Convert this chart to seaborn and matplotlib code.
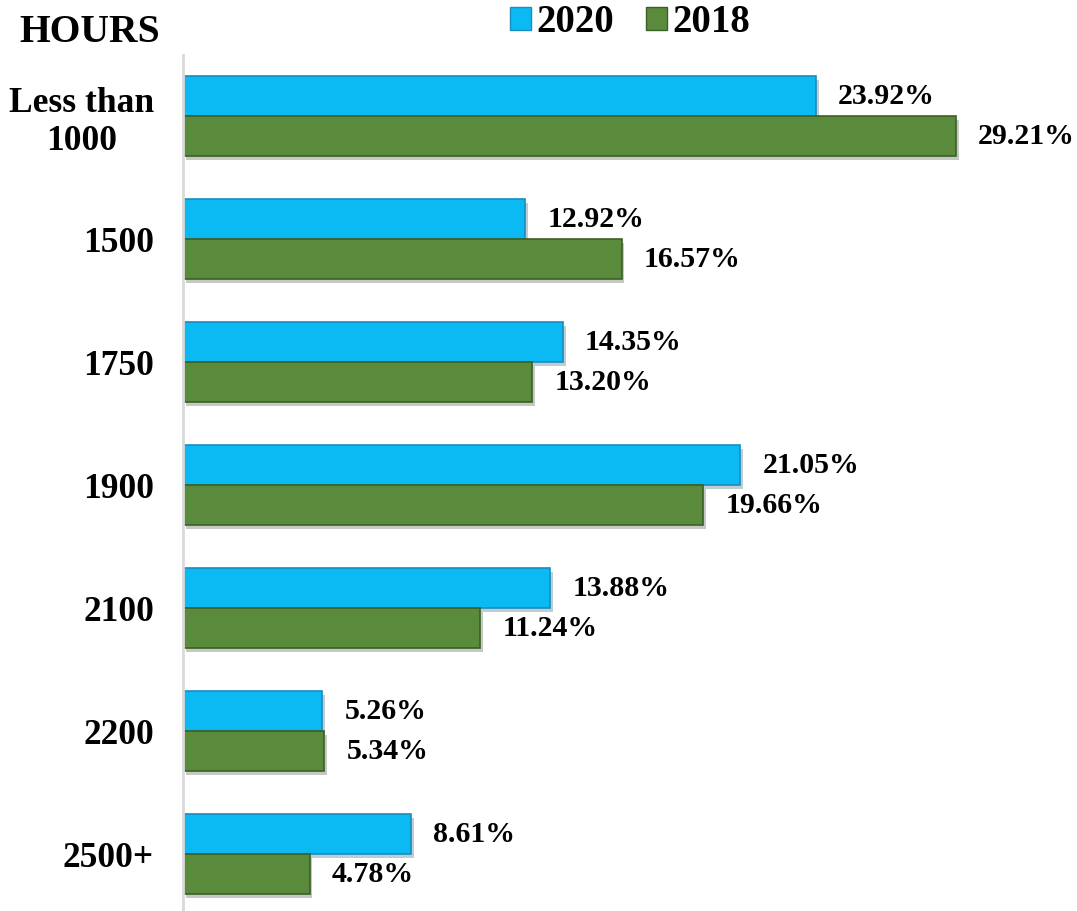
import matplotlib
matplotlib.use("Agg")
import matplotlib.pyplot as plt
import matplotlib.patheffects as pe
import seaborn as sns
import pandas as pd
from matplotlib.patches import Patch

categories = ["Less than\n1000", "1500", "1750", "1900", "2100", "2200", "2500+"]
values_2020 = [23.92, 12.92, 14.35, 21.05, 13.88, 5.26, 8.61]
values_2018 = [29.21, 16.57, 13.20, 19.66, 11.24, 5.34, 4.78]
series = ["2020", "2018"]

df = pd.DataFrame({
    "cat": categories * 2,
    "val": values_2020 + values_2018,
    "year": [series[0]] * len(categories) + [series[1]] * len(categories),
})

sns.set_theme(style="white")
plt.rcParams['font.family'] = ['Liberation Serif', 'DejaVu Serif']
plt.rcParams['font.weight'] = 'bold'
plt.rcParams['text.color'] = 'black'
plt.rcParams['ytick.color'] = 'black'
plt.rcParams['ytick.labelcolor'] = 'black'

blue = "#0BBAF2"
green = "#5A8A3C"
edges = {"2020": "#1A8CC0", "2018": "#3C5F26"}

fig = plt.figure(figsize=(10.77, 9.11), dpi=100)
ax = fig.add_axes([0.170, -0.0050, 0.737, 0.9451])

sns.barplot(data=df, y="cat", x="val", hue="year", orient="h",
            palette={"2020": blue, "2018": green}, width=0.65,
            dodge=True, ax=ax, legend=False, saturation=1)

shadow = [pe.SimplePatchShadow(offset=(2, -3), alpha=0.25), pe.Normal()]
for container, yr in zip(ax.containers, series):
    for p in container:
        p.set_edgecolor(edges[yr])
        p.set_linewidth(1.2)
        p.set_path_effects(shadow)
    ax.bar_label(container, labels=[f"{v:.2f}%" for v in container.datavalues],
                 padding=16, fontsize=21.5, fontweight="bold", color="black",
                 clip_on=False)

ax.set_xlim(0, 30)
ax.set_ylim(6.5, -0.5)
ax.set_xlabel("")
ax.set_ylabel("")
ax.set_xticks([])
for s in ["top", "right", "bottom"]:
    ax.spines[s].set_visible(False)
ax.spines["left"].set_color("#D9D9D9")
ax.spines["left"].set_linewidth(2)
ax.tick_params(axis="y", length=0, pad=21, labelsize=25.5, labelcolor="black")
for t in ax.get_yticklabels():
    t.set_fontweight("bold")
    t.set_multialignment("center")

fig.text(0.083, 0.964, "HOURS", fontsize=28.5, fontweight="bold", ha="center", va="center")

handles = [Patch(facecolor=blue, edgecolor=edges["2020"]),
           Patch(facecolor=green, edgecolor=edges["2018"])]
fig.legend(handles, series, loc="center", bbox_to_anchor=(0.585, 0.975), ncol=2,
           frameon=False, prop={"size": 28, "weight": "bold"},
           handlelength=0.55, handleheight=0.55, handletextpad=0.15, columnspacing=0.8)

fig.savefig("out.png", dpi=100)
